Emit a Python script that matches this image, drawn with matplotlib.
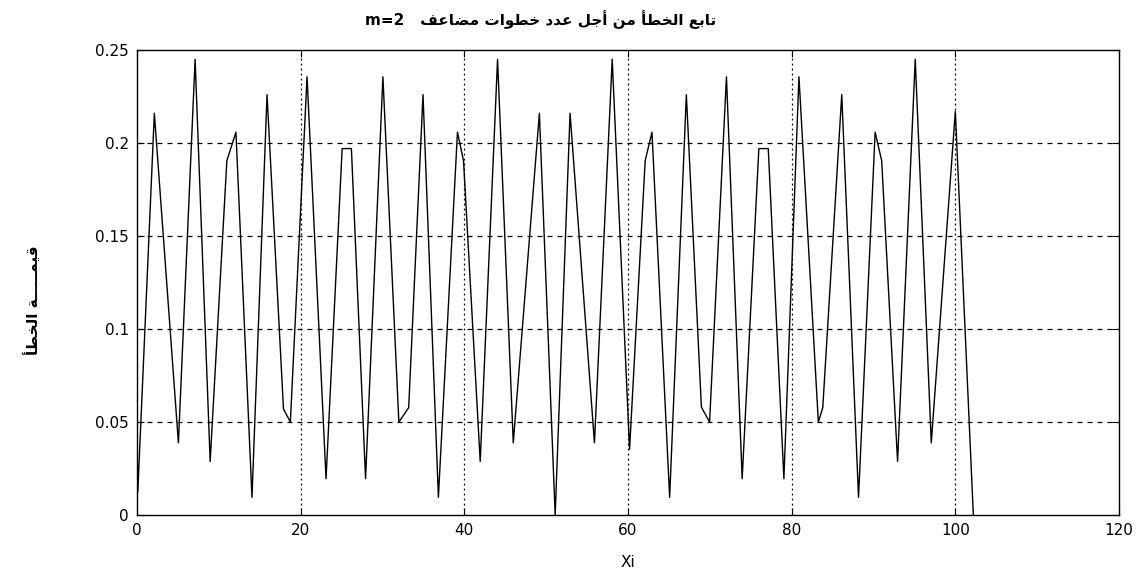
import matplotlib
matplotlib.use("Agg")
import matplotlib.pyplot as plt

# vertices of the error curve
xi = [0.0, 0.1, 2.12, 5.06, 7.1, 8.94, 10.98, 12.09, 14.05, 15.89, 17.9, 18.74,
      20.78, 23.1, 25.07, 26.2, 27.93, 30.05, 32.0, 33.2, 34.95, 36.83, 39.16,
      39.9, 41.94, 44.06, 45.98, 49.17, 51.1, 52.92, 55.9, 58.07, 60.19, 62.1,
      62.93, 65.09, 67.13, 68.97, 69.97, 72.03, 73.95, 75.99, 77.14, 79.05,
      80.89, 83.26, 83.8, 86.12, 88.17, 90.2, 91.0, 92.94, 95.1, 97.06, 100.0,
      102.2]
err = [0.040, 0.0125, 0.216, 0.0388, 0.245, 0.0288, 0.1905, 0.2058, 0.0095,
       0.226, 0.057, 0.050, 0.2356, 0.0195, 0.197, 0.197, 0.0195, 0.2356, 0.050,
       0.0577, 0.226, 0.0095, 0.2058, 0.1905, 0.0288, 0.245, 0.0388, 0.216, 0.0,
       0.216, 0.0388, 0.245, 0.0353, 0.1905, 0.2058, 0.0095, 0.226, 0.058,
       0.050, 0.2356, 0.0195, 0.197, 0.197, 0.0195, 0.2356, 0.050, 0.0577,
       0.226, 0.0095, 0.2058, 0.1905, 0.0288, 0.245, 0.0388, 0.217, 0.0]

xticks = [0, 20, 40, 60, 80, 100, 120]
yticks = [0, 0.05, 0.1, 0.15, 0.2, 0.25]
ytick_labels = ["0", "0.05", "0.1", "0.15", "0.2", "0.25"]

title_text = "تابع الخطأ من أجل عدد خطوات مضاعف   m=2"
ylabel_text = "قيمـــــة الخطأ"
xlabel_text = "Xi"

# --- minimal Arabic shaping + right-to-left ordering (matplotlib draws LTR only)
FORMS = {  # iso, fin, ini, med
    'ا': (0xFE8D, 0xFE8E, None, None), 'أ': (0xFE83, 0xFE84, None, None),
    'إ': (0xFE87, 0xFE88, None, None), 'آ': (0xFE81, 0xFE82, None, None),
    'ب': (0xFE8F, 0xFE90, 0xFE91, 0xFE92), 'ة': (0xFE93, 0xFE94, None, None),
    'ت': (0xFE95, 0xFE96, 0xFE97, 0xFE98), 'ث': (0xFE99, 0xFE9A, 0xFE9B, 0xFE9C),
    'ج': (0xFE9D, 0xFE9E, 0xFE9F, 0xFEA0), 'ح': (0xFEA1, 0xFEA2, 0xFEA3, 0xFEA4),
    'خ': (0xFEA5, 0xFEA6, 0xFEA7, 0xFEA8), 'د': (0xFEA9, 0xFEAA, None, None),
    'ذ': (0xFEAB, 0xFEAC, None, None), 'ر': (0xFEAD, 0xFEAE, None, None),
    'ز': (0xFEAF, 0xFEB0, None, None), 'س': (0xFEB1, 0xFEB2, 0xFEB3, 0xFEB4),
    'ش': (0xFEB5, 0xFEB6, 0xFEB7, 0xFEB8), 'ص': (0xFEB9, 0xFEBA, 0xFEBB, 0xFEBC),
    'ض': (0xFEBD, 0xFEBE, 0xFEBF, 0xFEC0), 'ط': (0xFEC1, 0xFEC2, 0xFEC3, 0xFEC4),
    'ظ': (0xFEC5, 0xFEC6, 0xFEC7, 0xFEC8), 'ع': (0xFEC9, 0xFECA, 0xFECB, 0xFECC),
    'غ': (0xFECD, 0xFECE, 0xFECF, 0xFED0), 'ف': (0xFED1, 0xFED2, 0xFED3, 0xFED4),
    'ق': (0xFED5, 0xFED6, 0xFED7, 0xFED8), 'ك': (0xFED9, 0xFEDA, 0xFEDB, 0xFEDC),
    'ل': (0xFEDD, 0xFEDE, 0xFEDF, 0xFEE0), 'م': (0xFEE1, 0xFEE2, 0xFEE3, 0xFEE4),
    'ن': (0xFEE5, 0xFEE6, 0xFEE7, 0xFEE8), 'ه': (0xFEE9, 0xFEEA, 0xFEEB, 0xFEEC),
    'و': (0xFEED, 0xFEEE, None, None), 'ي': (0xFEF1, 0xFEF2, 0xFEF3, 0xFEF4),
    'ى': (0xFEEF, 0xFEF0, None, None),
}
TATWEEL = 'ـ'


def joins_next(c):
    return c == TATWEEL or (c in FORMS and FORMS[c][2] is not None)


def is_joiner(c):
    return c == TATWEEL or c in FORMS


def shape(s):
    out = []
    for i, c in enumerate(s):
        if c not in FORMS:
            out.append(c)
            continue
        prev = s[i - 1] if i > 0 else ''
        nxt = s[i + 1] if i + 1 < len(s) else ''
        p = bool(prev) and joins_next(prev)
        n = bool(nxt) and is_joiner(nxt) and FORMS[c][2] is not None
        iso, fin, ini, med = FORMS[c]
        if p and n:
            code = med
        elif p:
            code = fin
        elif n:
            code = ini
        else:
            code = iso
        out.append(chr(code))
    return ''.join(out)


def visual(s):
    s = shape(s)
    runs, cur, cur_ltr = [], '', None
    for c in s:
        ltr = c.isascii() and c != ' '
        if cur_ltr is None or ltr == cur_ltr:
            cur += c
        else:
            runs.append((cur, cur_ltr))
            cur = c
        cur_ltr = ltr if cur_ltr is None or ltr != cur_ltr else cur_ltr
        if cur == c:
            cur_ltr = ltr
    runs.append((cur, cur_ltr))
    return ''.join(r if ltr else r[::-1] for r, ltr in reversed(runs))


plt.rcParams['font.family'] = ['DejaVu Sans']

W, H = 1142, 576
fig = plt.figure(figsize=(W / 100, H / 100), dpi=100)
ax = fig.add_axes([137 / W, 1 - 515 / H, (1119 - 137) / W, (515 - 50) / H])

ax.plot(xi, err, color="black", lw=1.0)

ax.set_xlim(0, 120)
ax.set_ylim(0, 0.25)
ax.set_xticks(xticks)
ax.set_xticklabels([str(t) for t in xticks])
ax.set_yticks(yticks)
ax.set_yticklabels(ytick_labels)
ax.tick_params(direction="in", length=5, labelsize=11, top=True, right=True,
               labeltop=False, labelright=False, pad=6)

for t in xticks[1:-1]:
    ax.axvline(t, color="black", lw=0.9, ls=(0, (1.5, 2.5)), zorder=0)
for t in yticks[1:-1]:
    ax.axhline(t, color="black", lw=0.9, ls=(0, (4, 4)), zorder=0)

for s in ax.spines.values():
    s.set_linewidth(1.0)

fig.text(541 / W, 1 - 20 / H, visual(title_text), fontsize=11,
         fontweight="bold", ha="center", va="center")
ax.set_xlabel(xlabel_text, fontsize=11, labelpad=12)
fig.text(33 / W, 1 - 300 / H, visual(ylabel_text), fontsize=11,
         fontweight="bold", rotation=90, ha="center", va="center")

fig.savefig("out.png", dpi=100)
